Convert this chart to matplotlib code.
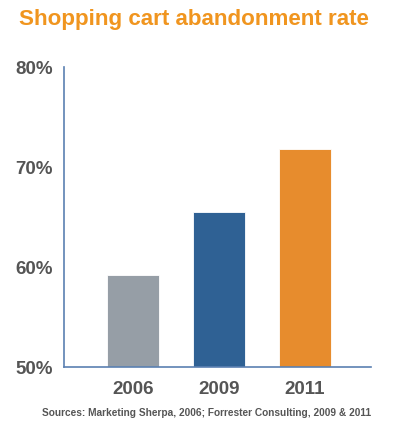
import matplotlib
matplotlib.use("Agg")
import matplotlib.pyplot as plt

years = ["2006", "2009", "2011"]
rates = [59.2, 65.5, 71.8]
colors = ["#969ea6", "#2f6194", "#e78c2d"]
yticks = [50, 60, 70, 80]

plt.rcParams["font.family"] = ["Liberation Sans", "DejaVu Sans"]

fig = plt.figure(figsize=(3.94, 4.39), dpi=100)
ax = fig.add_axes([64 / 394, 1 - 368 / 439, 307 / 394, 300 / 439])

x = range(len(years))
ax.bar(x, rates, width=0.6, color=colors, edgecolor="white", linewidth=0.6)

ax.set_xlim(-0.8, 2.77)
ax.set_ylim(50, 80)
ax.set_xticks(list(x))
ax.set_xticklabels(years, fontsize=13.5, fontweight="bold", color="#555555")
ax.set_yticks(yticks)
ax.set_yticklabels([f"{t}%" for t in yticks], fontsize=13.5, fontweight="bold", color="#555555")
ax.tick_params(axis="x", length=0, pad=9)
ax.tick_params(axis="y", length=0, pad=8)

for side in ("top", "right"):
    ax.spines[side].set_visible(False)
for side in ("left", "bottom"):
    ax.spines[side].set_color("#5b80b2")
    ax.spines[side].set_linewidth(1.2)

fig.text(19 / 394, 1 - 20 / 439, "Shopping cart abandonment rate", fontsize=16.1,
         fontweight="bold", color="#f0951f", ha="left", va="center")
fig.text(371 / 394, 1 - 413 / 439,
         "Sources: Marketing Sherpa, 2006; Forrester Consulting, 2009 & 2011",
         fontsize=7.25, fontweight="bold", color="#555555", ha="right", va="center")

fig.savefig("out.png", dpi=100)
